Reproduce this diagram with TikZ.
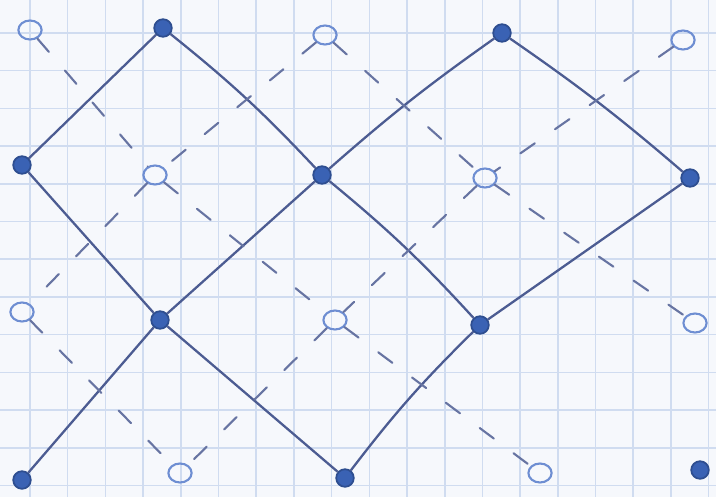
\documentclass[tikz,border=0pt]{standalone}
\usetikzlibrary{shapes.geometric}
\definecolor{paper}{HTML}{F6F8FC}
\definecolor{gridc}{HTML}{D0DCF0}
\definecolor{ink}{HTML}{4C5C92}
\definecolor{dotc}{HTML}{3A62B4}
\definecolor{openc}{HTML}{6E8ED2}
\tikzset{
  dotnode/.style={circle, fill=dotc, draw=dotc!80!black, line width=0.5pt, minimum size=5pt, inner sep=0pt},
  opennode/.style={ellipse, draw=openc, line width=0.6pt, minimum width=6.6pt, minimum height=5.4pt, inner sep=0pt},
  solidedge/.style={draw=ink, line width=0.65pt},
  dashedge/.style={draw=ink!85, line width=0.6pt, dash pattern=on 5pt off 7pt, line cap=round},
}
\begin{document}
\begin{tikzpicture}[x=0.01cm, y=-0.01cm]
\useasboundingbox (0,0) rectangle (716,497);
\fill[paper] (0,0) rectangle (716,497);
% grid
\foreach \i in {0,...,18} {
  \draw[gridc, line width=0.45pt] ({30+37.7*\i},0) -- ({30+37.7*\i},497);
}
\foreach \j in {0,...,12} {
  \draw[gridc, line width=0.45pt] (0,{33+37.7*\j}) -- (716,{33+37.7*\j});
}
% filled nodes
\node[dotnode] (f1) at (163,28) {};
\node[dotnode] (f2) at (502,33) {};
\node[dotnode] (f3) at (22,165) {};
\node[dotnode] (f4) at (322,175) {};
\node[dotnode] (f5) at (690,178) {};
\node[dotnode] (f6) at (160,320) {};
\node[dotnode] (f7) at (480,325) {};
\node[dotnode] (f8) at (22,480) {};
\node[dotnode] (f9) at (345,478) {};
\node[dotnode] (f10) at (700,470) {};
% open nodes
\node[opennode] (o1) at (30,30) {};
\node[opennode] (o2) at (325,35) {};
\node[opennode] (o3) at (683,40) {};
\node[opennode] (o4) at (155,175) {};
\node[opennode] (o5) at (485,178) {};
\node[opennode] (o6) at (22,312) {};
\node[opennode] (o7) at (335,320) {};
\node[opennode] (o8) at (695,323) {};
\node[opennode] (o9) at (180,473) {};
\node[opennode] (o10) at (540,473) {};
% solid edges
\draw[solidedge] (f1) -- (f3);
\draw[solidedge] (f1) to[bend left=4] (f4);
\draw[solidedge] (f4) to[bend left=4] (f7);
\draw[solidedge] (f2) to[bend right=3] (f4);
\draw[solidedge] (f4) -- (f6);
\draw[solidedge] (f6) -- (f8);
\draw[solidedge] (f2) to[bend left=3] (f5);
\draw[solidedge] (f5) -- (f7);
\draw[solidedge] (f7) to[bend right=4] (f9);
\draw[solidedge] (f3) -- (f6);
\draw[solidedge] (f6) -- (f9);
% dashed edges
\draw[dashedge] (o1) -- (o4);
\draw[dashedge] (o4) -- (o7);
\draw[dashedge] (o7) -- (o10);
\draw[dashedge] (o2) -- (o4);
\draw[dashedge] (o4) -- (o6);
\draw[dashedge] (o2) -- (o5);
\draw[dashedge] (o5) -- (o8);
\draw[dashedge] (o3) -- (o5);
\draw[dashedge] (o5) -- (o7);
\draw[dashedge] (o7) -- (o9);
\draw[dashedge] (o6) -- (o9);
\end{tikzpicture}
\end{document}
